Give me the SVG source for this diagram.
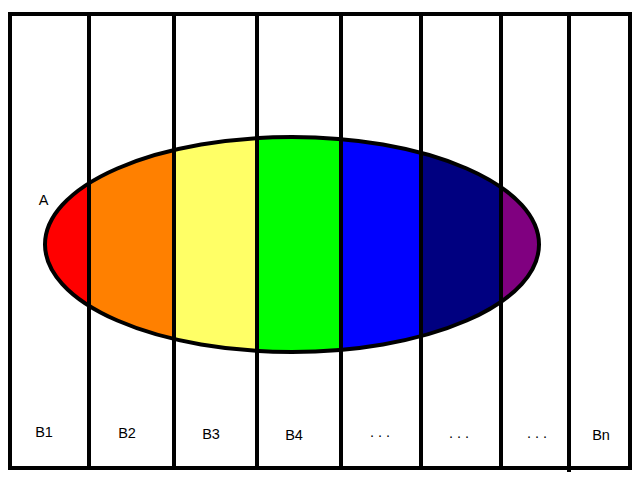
<svg xmlns="http://www.w3.org/2000/svg" width="640" height="480" viewBox="0 0 640 480">
<style>
.ln{stroke:#000;stroke-width:4;fill:none}
.t{font-family:"Liberation Sans",Arial,sans-serif;font-size:14.5px;fill:#000;text-anchor:middle}
</style>
<defs>
<clipPath id="ec"><ellipse cx="292" cy="244.5" rx="247" ry="107.5"/></clipPath>
</defs>
<rect x="0" y="0" width="640" height="480" fill="#fff"/>
<g id="A">
<g clip-path="url(#ec)">
<rect x="40" y="130" width="49" height="230" fill="#ff0000"/>
<rect x="89" y="130" width="85" height="230" fill="#ff8000"/>
<rect x="174" y="130" width="83" height="230" fill="#ffff66"/>
<rect x="257" y="130" width="84" height="230" fill="#00ff00"/>
<rect x="341" y="130" width="80" height="230" fill="#0000ff"/>
<rect x="421" y="130" width="80" height="230" fill="#000080"/>
<rect x="501" y="130" width="45" height="230" fill="#800080"/>
</g>
<ellipse class="ln" cx="292" cy="244.5" rx="247" ry="107.5"/>
<text class="t" x="43.5" y="205">A</text>
</g>
<g id="frame">
<rect class="ln" x="10" y="14" width="620" height="454"/>
</g>
<g id="connectors">
<line class="ln" x1="89" y1="14" x2="89" y2="470"/>
<line class="ln" x1="174" y1="14" x2="174" y2="468"/>
<line class="ln" x1="257" y1="14" x2="257" y2="468"/>
<line class="ln" x1="341" y1="14" x2="341" y2="468"/>
<line class="ln" x1="421" y1="14" x2="421" y2="468"/>
<line class="ln" x1="501" y1="14" x2="501" y2="468"/>
<line class="ln" x1="569" y1="14" x2="569" y2="472"/>
</g>
<g id="B1"><text class="t" x="44" y="437">B1</text></g>
<g id="B2"><text class="t" x="127" y="438">B2</text></g>
<g id="B3"><text class="t" x="211" y="439">B3</text></g>
<g id="B4"><text class="t" x="294" y="440">B4</text></g>
<g id="B5"><text class="t" x="380" y="437">. . .</text></g>
<g id="B6"><text class="t" x="459" y="438">. . .</text></g>
<g id="B7"><text class="t" x="537" y="438">. . .</text></g>
<g id="Bn"><text class="t" x="601" y="440">Bn</text></g>
</svg>
